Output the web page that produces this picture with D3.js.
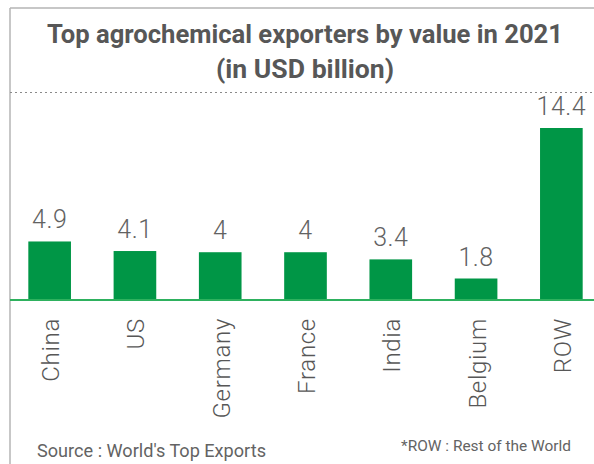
<!DOCTYPE html>
<html>
<head>
<meta charset="utf-8">
<script src="https://cdn.jsdelivr.net/npm/d3@7"></script>
<style>
  body { margin: 0; background: #fff; }
  svg { display: block; font-family: Roboto, "Liberation Sans", sans-serif; }
</style>
</head>
<body>
<svg id="chart" width="594" height="464"></svg>
<script>
// chart data
const countries = ['China', 'US', 'Germany', 'France', 'India', 'Belgium', 'ROW'];
const exportValues = [4.9, 4.1, 4, 4, 3.4, 1.8, 14.4];
const valueLabels = ['4.9', '4.1', '4', '4', '3.4', '1.8', '14.4'];
const titleLines = ['Top agrochemical exporters by value in 2021', '(in USD billion)'];
const sourceNote = "Source : World's Top Exports";
const rowNote = '*ROW : Rest of the World';

const svg = d3.select('#chart');
const W = 594, H = 464;
const baseY = 300;

// scales
const x = d3.scaleBand()
  .domain(countries)
  .range([7, 604])
  .paddingInner(0.5)
  .paddingOuter(0.25);
const y = d3.scaleLinear()
  .domain([0, 14.4])
  .range([baseY, 128]);

// frame
svg.append('line')
  .attr('x1', 10).attr('x2', 10).attr('y1', 8).attr('y2', H)
  .attr('stroke', '#b4b4b4').attr('stroke-width', 1.5);
svg.append('line')
  .attr('x1', 10).attr('x2', W).attr('y1', 8).attr('y2', 8)
  .attr('stroke', '#b4b4b4').attr('stroke-width', 1.5);

// title
svg.selectAll('.title')
  .data(titleLines)
  .join('text')
  .attr('class', 'title')
  .attr('x', 305)
  .attr('y', (d, i) => 43 + i * 35)
  .attr('text-anchor', 'middle')
  .attr('font-size', 25)
  .attr('font-weight', 700)
  .attr('fill', '#575757')
  .attr('textLength', (d, i) => i === 0 ? 516 : 178)
  .attr('lengthAdjust', 'spacingAndGlyphs')
  .text(d => d);

// dotted line under the title
svg.append('line')
  .attr('x1', 10).attr('x2', W).attr('y1', 92.5).attr('y2', 92.5)
  .attr('stroke', '#8a8a8a').attr('stroke-width', 1.2)
  .attr('stroke-dasharray', '2,3');

const rows = countries.map((c, i) => ({ name: c, value: exportValues[i], label: valueLabels[i] }));

// bars
svg.selectAll('.bar')
  .data(rows)
  .join('rect')
  .attr('class', 'bar')
  .attr('x', d => x(d.name))
  .attr('y', d => y(d.value))
  .attr('width', x.bandwidth())
  .attr('height', d => baseY - y(d.value))
  .attr('fill', '#009646');

// baseline
svg.append('line')
  .attr('x1', 10).attr('x2', W).attr('y1', baseY).attr('y2', baseY)
  .attr('stroke', '#2eb15e').attr('stroke-width', 2);

// value labels
svg.selectAll('.val')
  .data(rows)
  .join('text')
  .attr('class', 'val')
  .attr('x', d => x(d.name) + x.bandwidth() / 2)
  .attr('y', d => y(d.value) - 13)
  .attr('text-anchor', 'middle')
  .attr('font-size', 25)
  .attr('font-weight', 300)
  .attr('letter-spacing', 0.5)
  .attr('fill', '#626262')
  .text(d => d.label);

// category labels, rotated
svg.selectAll('.cat')
  .data(rows)
  .join('text')
  .attr('class', 'cat')
  .attr('transform', d => `translate(${x(d.name) + x.bandwidth() / 2 + 9.5},318) rotate(-90)`)
  .attr('text-anchor', 'end')
  .attr('font-size', 24)
  .attr('font-weight', 300)
  .attr('letter-spacing', 0.7)
  .attr('fill', '#575757')
  .text(d => d.name);

// footnotes
svg.append('text')
  .attr('x', 37).attr('y', 457)
  .attr('font-size', 17.5)
  .attr('fill', '#636363')
  .attr('textLength', 229)
  .attr('lengthAdjust', 'spacingAndGlyphs')
  .text(sourceNote);
svg.append('text')
  .attr('x', 401).attr('y', 451)
  .attr('font-size', 15)
  .attr('fill', '#636363')
  .attr('textLength', 170)
  .attr('lengthAdjust', 'spacingAndGlyphs')
  .text(rowNote);
</script>
</body>
</html>
